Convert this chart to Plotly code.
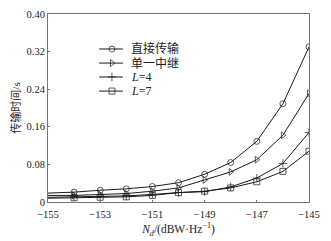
import plotly.graph_objects as go

x_vals = [-155, -154, -153, -152, -151, -150, -149, -148, -147, -146, -145]
direct = [0.019, 0.021, 0.025, 0.028, 0.033, 0.041, 0.059, 0.084, 0.129, 0.209, 0.330]
single_relay = [0.014, 0.014, 0.016, 0.018, 0.023, 0.030, 0.047, 0.064, 0.090, 0.142, 0.231]
l4 = [0.010, 0.011, 0.012, 0.013, 0.016, 0.020, 0.022, 0.032, 0.051, 0.082, 0.148]
l7 = [0.008, 0.009, 0.010, 0.011, 0.014, 0.020, 0.023, 0.030, 0.043, 0.065, 0.108]
names = ["直接传输", "单一中继", "<i>L</i>=4", "<i>L</i>=7"]
x_ticks = [-155, -153, -151, -149, -147, -145]
x_tick_text = ["−155", "−153", "−151", "−149", "−147", "−145"]
y_ticks = [0, 0.08, 0.16, 0.24, 0.32, 0.40]
y_tick_text = ["0", "0.08", "0.16", "0.24", "0.32", "0.40"]

symbols = ["circle-open", "triangle-right-open", "cross-thin-open", "square-open"]
series = [direct, single_relay, l4, l7]
ink = "#1a1a1a"

fig = go.Figure()
for name, ys, sym in zip(names, series, symbols):
    sizes = [0] + [6] * (len(x_vals) - 1)
    fig.add_trace(go.Scatter(
        x=x_vals, y=ys, name=name, mode="lines+markers", showlegend=False,
        line=dict(color=ink, width=1),
        marker=dict(symbol=sym, size=sizes, color=ink,
                    line=dict(color=ink, width=1)),
    ))

# compact legend drawn on an overlay axis in plot-fraction units
leg_rows = [0.814, 0.739, 0.665, 0.590]
leg_x0, leg_xm, leg_x1, leg_tx = 0.196, 0.245, 0.287, 0.312
for name, sym, ry in zip(names, symbols, leg_rows):
    fig.add_trace(go.Scatter(
        x=[leg_x0, leg_xm, leg_x1], y=[ry, ry, ry], mode="lines+markers",
        xaxis="x2", yaxis="y2", showlegend=False, hoverinfo="skip",
        line=dict(color=ink, width=1),
        marker=dict(symbol=sym, size=[0, 6, 0], color=ink,
                    line=dict(color=ink, width=1)),
    ))
    fig.add_annotation(x=leg_tx, y=ry, xref="x2", yref="y2", text=name,
                       showarrow=False, xanchor="left", yanchor="middle",
                       font=dict(size=12, color="#222"))

serif = "Liberation Serif, Noto Sans CJK SC, serif"
# page body has an 8px margin, so the figure is sized to fit the 331x241 window
fig.update_layout(
    width=323, height=233,
    margin=dict(l=40, r=22, t=6, b=39, autoexpand=False),
    paper_bgcolor="white", plot_bgcolor="white",
    font=dict(family=serif, size=10.5, color="#222"),
    showlegend=False,
    xaxis=dict(range=[-155, -145], tickvals=x_ticks, automargin=False,
               ticktext=x_tick_text,
               showgrid=False, showline=True, linecolor="#777", linewidth=1,
               mirror=True, ticks="inside", ticklen=2, tickcolor="#777",
               zeroline=False, ticklabeloverflow="allow", ticklabelstandoff=2,
               title=dict(text="<i>N</i><sub><i>d</i></sub>/(dBW·Hz<sup>−1</sup>)",
                          font=dict(size=11.5), standoff=6)),
    yaxis=dict(range=[0, 0.40], tickvals=y_ticks, automargin=False,
               ticktext=y_tick_text,
               showgrid=False, showline=True, linecolor="#777", linewidth=1,
               mirror=True, ticks="inside", ticklen=2, tickcolor="#777",
               zeroline=False, ticklabeloverflow="allow",
               title=dict(text="传输时间/s", font=dict(size=11), standoff=3)),
    xaxis2=dict(range=[0, 1], overlaying="x", visible=False, fixedrange=True),
    yaxis2=dict(range=[0, 1], overlaying="y", visible=False, fixedrange=True),
)
fig.write_html("out.html")
